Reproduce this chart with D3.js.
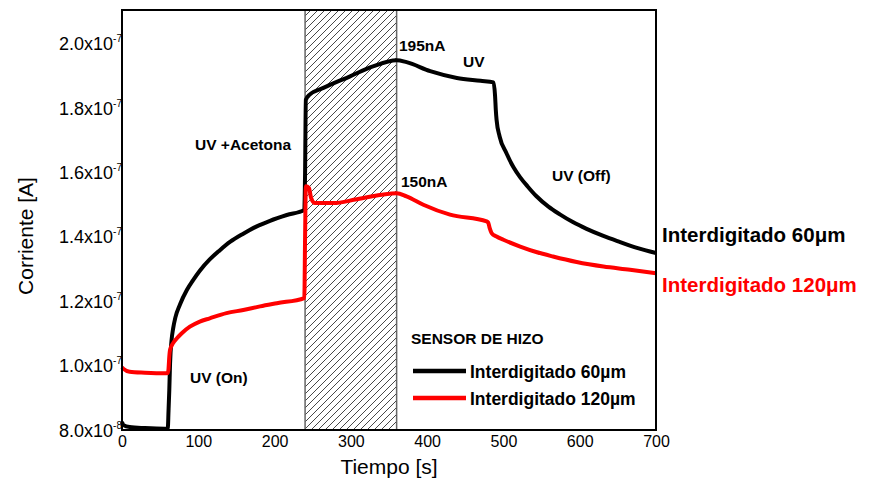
<!DOCTYPE html>
<html>
<head>
<meta charset="utf-8">
<script src="https://cdn.jsdelivr.net/npm/d3@7"></script>
<style>
  body { margin: 0; background: #fff; }
  svg { font-family: "Liberation Sans", Arial, sans-serif; }
</style>
</head>
<body>
<svg id="chart"></svg>
<script>
// time [s] and current [A]
var time60 = [0, 2, 10, 30, 56, 60, 61, 62, 63, 65, 67, 70, 76, 85, 93, 102, 115, 128,
    142, 159, 176, 194, 216, 239, 240, 241, 246, 264, 299, 329, 360, 373, 404, 439,
    470, 487, 489, 490, 491, 495, 504, 513, 522, 532, 543, 559, 574, 591, 609, 631,
    653, 675, 700];
var curr60 = [0.825, 0.815, 0.809, 0.806, 0.804, 0.804, 0.86, 0.924, 1.007, 1.08,
    1.115, 1.15, 1.19, 1.235, 1.265, 1.295, 1.33, 1.358, 1.385, 1.41, 1.432, 1.45,
    1.468, 1.484, 1.60, 1.826, 1.842, 1.863, 1.899, 1.93, 1.949, 1.943, 1.915, 1.894,
    1.885, 1.88, 1.84, 1.795, 1.764, 1.712, 1.66, 1.617, 1.585, 1.556, 1.527, 1.494,
    1.470, 1.446, 1.425, 1.403, 1.384, 1.366, 1.35].map(function(v) { return v * 1e-7; });

var time120 = [0, 2, 10, 30, 56, 60, 61, 62, 63, 67, 72, 78, 89, 102, 115, 137, 159,
    181, 203, 239, 240, 241, 245, 248, 253, 277, 308, 360, 373, 395, 430, 478, 480,
    482, 484.5, 491, 500, 522, 543, 565, 596, 631, 666, 700];
var curr120 = [0.995, 0.99, 0.981, 0.978, 0.976, 0.977, 0.99, 1.028, 1.049, 1.07,
    1.085, 1.10, 1.121, 1.137, 1.147, 1.163, 1.173, 1.184, 1.194, 1.21, 1.40, 1.557,
    1.552, 1.52, 1.505, 1.505, 1.517, 1.536, 1.526, 1.50, 1.469, 1.448, 1.445, 1.427,
    1.412, 1.401, 1.391, 1.37, 1.353, 1.339, 1.322, 1.308, 1.298, 1.287].map(function(v) { return v * 1e-7; });

var xTicks = [0, 100, 200, 300, 400, 500, 600, 700];
var yTicks = [0.8e-7, 1.0e-7, 1.2e-7, 1.4e-7, 1.6e-7, 1.8e-7, 2.0e-7];
var acetoneWindow = [240, 360];

var screen = {width: 869, height: 483};
var margins = {top: 10, left: 122, right: 213, bottom: 53};
var graph = {
    width: screen.width - margins.left - margins.right,
    height: screen.height - margins.top - margins.bottom
};

var svg = d3.select("#chart")
    .attr("width", screen.width)
    .attr("height", screen.height);

var x = d3.scaleLinear().domain([0, 700]).range([0, graph.width]);
var y = d3.scaleLinear().domain([0.8e-7, 2.105e-7]).range([graph.height, 0]);

// hatch for the acetone window
var defs = svg.append("defs");
defs.append("pattern")
    .attr("id", "hatch")
    .attr("patternUnits", "userSpaceOnUse")
    .attr("width", 7)
    .attr("height", 7)
    .append("path")
    .attr("d", "M-1,1 l2,-2 M0,7 l7,-7 M6,8 l2,-2")
    .attr("stroke", "#333")
    .attr("stroke-width", 0.9);

var g = svg.append("g")
    .attr("transform", "translate(" + margins.left + "," + margins.top + ")");

g.append("rect")
    .attr("x", x(acetoneWindow[0]))
    .attr("y", 0)
    .attr("width", x(acetoneWindow[1]) - x(acetoneWindow[0]))
    .attr("height", graph.height)
    .attr("fill", "url(#hatch)")
    .attr("stroke", "#666")
    .attr("stroke-width", 1.5);

var line = d3.line()
    .x(function(d) { return x(d[0]); })
    .y(function(d) { return y(d[1]); })
    .curve(d3.curveMonotoneX);

var lines = [
    {t: time60, c: curr60, color: "#000"},
    {t: time120, c: curr120, color: "#ff0000"}
];

g.selectAll("path.serie")
    .data(lines)
    .enter()
    .append("path")
    .classed("serie", true)
    .attr("d", function(s) { return line(d3.zip(s.t, s.c)); })
    .attr("fill", "none")
    .attr("stroke", function(s) { return s.color; })
    .attr("stroke-width", 4)
    .attr("stroke-linejoin", "round");

// axes
var xAxis = d3.axisBottom(x).tickValues(xTicks).tickSize(0).tickPadding(6);
var yAxis = d3.axisLeft(y).tickValues(yTicks).tickSize(0).tickFormat("");

var gx = g.append("g")
    .attr("transform", "translate(0," + graph.height + ")")
    .call(xAxis);
gx.select(".domain").remove();
gx.selectAll("text")
    .attr("font-size", 16)
    .attr("font-family", "Liberation Sans, Arial, sans-serif")
    .attr("fill", "#000");

var gy = g.append("g").call(yAxis);
gy.select(".domain").remove();
gy.selectAll(".tick text").each(function(d) {
    var exp = Math.floor(Math.log10(d) + 1e-9);
    var mant = d / Math.pow(10, exp);
    var t = d3.select(this)
        .attr("x", 0)
        .attr("dy", null)
        .attr("y", 6)
        .attr("text-anchor", "end")
        .attr("font-size", 18)
        .attr("font-family", "Liberation Sans, Arial, sans-serif")
        .attr("fill", "#000");
    t.append("tspan").text(mant.toFixed(1) + "x10");
    t.append("tspan").attr("font-size", 10).attr("dy", -8).text(exp);
});

// frame
g.append("rect")
    .attr("width", graph.width)
    .attr("height", graph.height)
    .attr("fill", "none")
    .attr("stroke", "#000")
    .attr("stroke-width", 2);

// axis titles
svg.append("text")
    .attr("x", margins.left + graph.width / 2)
    .attr("y", 474)
    .attr("text-anchor", "middle")
    .attr("font-size", 21)
    .text("Tiempo [s]");

svg.append("text")
    .attr("transform", "translate(33,236) rotate(-90)")
    .attr("text-anchor", "middle")
    .attr("font-size", 21)
    .text("Corriente [A]");

// annotations
var notes = [
    {text: "UV +Acetona", x: 195, y: 150},
    {text: "UV (On)", x: 190, y: 383},
    {text: "195nA", x: 399, y: 51},
    {text: "UV", x: 463, y: 67},
    {text: "150nA", x: 401, y: 187},
    {text: "UV (Off)", x: 552, y: 181},
    {text: "SENSOR DE HIZO", x: 411, y: 344}
];
svg.selectAll("text.note")
    .data(notes)
    .enter()
    .append("text")
    .classed("note", true)
    .attr("x", function(d) { return d.x; })
    .attr("y", function(d) { return d.y; })
    .attr("font-size", 15.5)
    .attr("font-weight", "bold")
    .text(function(d) { return d.text; });

// legend
var legend = [
    {name: "Interdigitado 60µm", color: "#000", y: 371},
    {name: "Interdigitado 120µm", color: "#ff0000", y: 398}
];
var lg = svg.selectAll("g.legend")
    .data(legend)
    .enter()
    .append("g")
    .classed("legend", true);
lg.append("line")
    .attr("x1", 413).attr("x2", 466)
    .attr("y1", function(d) { return d.y; })
    .attr("y2", function(d) { return d.y; })
    .attr("stroke", function(d) { return d.color; })
    .attr("stroke-width", 4.5);
lg.append("text")
    .attr("x", 470)
    .attr("y", function(d) { return d.y + 7; })
    .attr("font-size", 17.5)
    .attr("font-weight", "bold")
    .text(function(d) { return d.name; });

// labels at the right of the plot
var sideLabels = [
    {name: "Interdigitado 60\u03bcm", color: "#000", y: 242},
    {name: "Interdigitado 120\u03bcm", color: "#ff0000", y: 292}
];
svg.selectAll("text.side")
    .data(sideLabels)
    .enter()
    .append("text")
    .classed("side", true)
    .attr("x", 662)
    .attr("y", function(d) { return d.y; })
    .attr("font-size", 20.5)
    .attr("font-weight", "bold")
    .attr("fill", function(d) { return d.color; })
    .text(function(d) { return d.name; });
</script>
</body>
</html>
